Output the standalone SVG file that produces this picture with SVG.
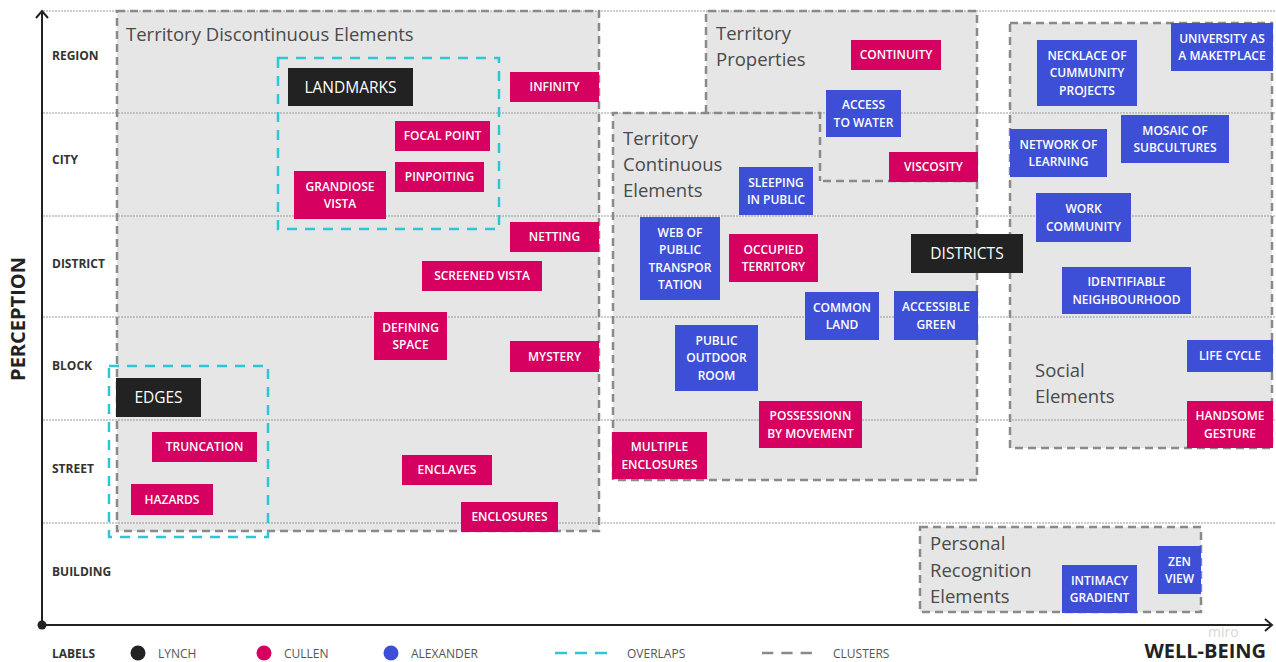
<svg xmlns="http://www.w3.org/2000/svg" width="1276" height="662" viewBox="0 0 1276 662">
<style>
text{font-family:"Open Sans","Liberation Sans",sans-serif}
.cf{fill:#e6e6e6;stroke:none}
.cb{fill:none;stroke:#8a8a8a;stroke-width:2.5;stroke-dasharray:8 5}
.ov{fill:none;stroke:#2ec5d6;stroke-width:2.5;stroke-dasharray:10 8}
.grid{stroke:#9a9a9a;stroke-width:1;stroke-dasharray:2 1}
.ct{font-size:18.5px;fill:#4a4a4a}
.lv{font-size:12px;font-weight:700;fill:#333}
.lg{font-size:12px;fill:#555}
.l{fill:#222}
.c{fill:#d5005f}
.a{fill:#3e4fd7}
.nt{font-size:12px;font-weight:600;fill:#fff;text-anchor:middle}
.bt{font-size:15.5px;fill:#fff;text-anchor:middle}
.ax{stroke:#222;stroke-width:2;fill:none}
</style>

<!-- clusters -->
<g id="cluster-discontinuous">
<rect class="cf" x="117" y="11" width="482" height="520"/>
</g>
<g id="cluster-properties">
<rect class="cf" x="706" y="11" width="271" height="170"/>
</g>
<g id="cluster-continuous">
<polygon class="cf" points="613,113 820,113 820,181 977,181 977,480 613,480"/>
</g>
<g id="cluster-social">
<rect class="cf" x="1010" y="23" width="262" height="425"/>
</g>
<g id="cluster-personal">
<rect class="cf" x="920" y="527" width="281" height="85"/>
</g>

<!-- grid -->
<g id="grid">
<line class="grid" x1="43" y1="11" x2="1276" y2="11"/>
<line class="grid" x1="43" y1="113" x2="1276" y2="113"/>
<line class="grid" x1="43" y1="216" x2="1276" y2="216"/>
<line class="grid" x1="43" y1="317" x2="1276" y2="317"/>
<line class="grid" x1="43" y1="420" x2="1276" y2="420"/>
<line class="grid" x1="43" y1="523" x2="1276" y2="523"/>
</g>

<!-- cluster borders and titles -->
<g id="cluster-borders">
<rect class="cb" x="117" y="11" width="482" height="520"/>
<path class="cb" d="M706,113 V11 H977 V181 H820"/>
<path class="cb" d="M613,480 V113 H820 V181 M977,181 V480 H613"/>
<rect class="cb" x="1010" y="23" width="262" height="425"/>
<rect class="cb" x="920" y="527" width="281" height="85"/>
</g>
<g id="cluster-titles">
<text class="ct" x="126" y="41">Territory Discontinuous Elements</text>
<text class="ct" x="716" y="40">Territory</text>
<text class="ct" x="716" y="66">Properties</text>
<text class="ct" x="623" y="145">Territory</text>
<text class="ct" x="623" y="171">Continuous</text>
<text class="ct" x="623" y="197">Elements</text>
<text class="ct" x="1035" y="377">Social</text>
<text class="ct" x="1035" y="403">Elements</text>
<text class="ct" x="930" y="550">Personal</text>
<text class="ct" x="930" y="577">Recognition</text>
<text class="ct" x="930" y="603">Elements</text>
</g>

<!-- overlaps -->
<g id="overlaps">
<rect class="ov" x="278" y="58" width="221" height="171"/>
<rect class="ov" x="109" y="366" width="159" height="171"/>
</g>

<!-- axes (connectors) -->
<g id="connectors">
<line class="ax" x1="42" y1="625" x2="42" y2="12"/>
<polyline class="ax" points="36,18 42,11 48,18"/>
<line class="ax" x1="42" y1="625" x2="1271" y2="625"/>
<polyline class="ax" points="1265,619 1272,625 1265,631"/>
<circle cx="42" cy="625" r="4.5" fill="#222"/>
</g>

<!-- axis labels -->
<g id="axis-labels">
<text x="25" y="319" transform="rotate(-90 25 319)" text-anchor="middle" font-size="20" font-weight="700" fill="#222">PERCEPTION</text>
<text x="1208" y="637" font-size="14" fill="#d6d6d6">miro</text>
<text x="1266" y="658" text-anchor="end" font-size="20" font-weight="700" fill="#222">WELL-BEING</text>
<text class="lv" x="52" y="60">REGION</text>
<text class="lv" x="52" y="164">CITY</text>
<text class="lv" x="52" y="268">DISTRICT</text>
<text class="lv" x="52" y="370">BLOCK</text>
<text class="lv" x="52" y="473">STREET</text>
<text class="lv" x="52" y="576">BUILDING</text>
</g>

<!-- legend -->
<g id="legend">
<text class="lv" x="52" y="658">LABELS</text>
<circle class="l" cx="138" cy="653" r="7.5"/>
<text class="lg" x="158" y="658">LYNCH</text>
<circle class="c" cx="264" cy="653" r="7.5"/>
<text class="lg" x="284" y="658">CULLEN</text>
<circle class="a" cx="391" cy="653" r="7.5"/>
<text class="lg" x="411" y="658">ALEXANDER</text>
<line class="ov" x1="555" y1="653" x2="607" y2="653" style="stroke-dasharray:12 8"/>
<text class="lg" x="627" y="658">OVERLAPS</text>
<line class="cb" x1="762" y1="653" x2="812" y2="653" style="stroke-dasharray:11.3 8"/>
<text class="lg" x="833" y="658">CLUSTERS</text>
</g>

<!-- Lynch nodes -->
<g id="n-landmarks"><rect class="l" x="288" y="68" width="125" height="38"/><text class="bt" x="350.5" y="92.5">LANDMARKS</text></g>
<g id="n-edges"><rect class="l" x="116" y="378" width="85" height="39"/><text class="bt" x="158.5" y="403">EDGES</text></g>
<g id="n-districts"><rect class="l" x="911" y="234" width="112" height="39"/><text class="bt" x="967" y="259">DISTRICTS</text></g>

<!-- Cullen nodes -->
<g id="n-infinity"><rect class="c" x="510" y="72" width="89" height="30"/><text class="nt" x="554.5" y="91.3">INFINITY</text></g>
<g id="n-focal-point"><rect class="c" x="395" y="121" width="95" height="30"/><text class="nt" x="442.5" y="140.3">FOCAL POINT</text></g>
<g id="n-pinpoiting"><rect class="c" x="395" y="162" width="89" height="30"/><text class="nt" x="439.5" y="181.3">PINPOITING</text></g>
<g id="n-grandiose-vista"><rect class="c" x="294" y="171" width="92" height="48"/><text class="nt" x="340" y="190.5">GRANDIOSE</text><text class="nt" x="340" y="208">VISTA</text></g>
<g id="n-netting"><rect class="c" x="510" y="222" width="89" height="30"/><text class="nt" x="554.5" y="241.3">NETTING</text></g>
<g id="n-screened-vista"><rect class="c" x="422" y="261" width="120" height="30"/><text class="nt" x="482" y="280.3">SCREENED VISTA</text></g>
<g id="n-defining-space"><rect class="c" x="374" y="312" width="73" height="48"/><text class="nt" x="410.5" y="331.5">DEFINING</text><text class="nt" x="410.5" y="349">SPACE</text></g>
<g id="n-mystery"><rect class="c" x="510" y="341" width="89" height="31"/><text class="nt" x="554.5" y="360.8">MYSTERY</text></g>
<g id="n-enclaves"><rect class="c" x="402" y="455" width="90" height="30"/><text class="nt" x="447" y="474.3">ENCLAVES</text></g>
<g id="n-truncation"><rect class="c" x="152" y="432" width="105" height="30"/><text class="nt" x="204.5" y="451.3">TRUNCATION</text></g>
<g id="n-hazards"><rect class="c" x="131" y="484" width="82" height="31"/><text class="nt" x="172" y="503.8">HAZARDS</text></g>
<g id="n-enclosures"><rect class="c" x="461" y="502" width="97" height="30"/><text class="nt" x="509.5" y="521.3">ENCLOSURES</text></g>
<g id="n-multiple-enclosures"><rect class="c" x="612" y="432" width="95" height="47"/><text class="nt" x="659.5" y="451">MULTIPLE</text><text class="nt" x="659.5" y="468.5">ENCLOSURES</text></g>
<g id="n-possession"><rect class="c" x="759" y="401" width="103" height="47"/><text class="nt" x="810.5" y="420">POSSESSIONN</text><text class="nt" x="810.5" y="437.5">BY MOVEMENT</text></g>
<g id="n-occupied-territory"><rect class="c" x="729" y="234" width="89" height="48"/><text class="nt" x="773.5" y="253.5">OCCUPIED</text><text class="nt" x="773.5" y="271">TERRITORY</text></g>
<g id="n-continuity"><rect class="c" x="851" y="40" width="90" height="30"/><text class="nt" x="896" y="59.3">CONTINUITY</text></g>
<g id="n-viscosity"><rect class="c" x="889" y="152" width="89" height="30"/><text class="nt" x="933.5" y="171.3">VISCOSITY</text></g>
<g id="n-handsome-gesture"><rect class="c" x="1187" y="401" width="86" height="47"/><text class="nt" x="1230" y="420">HANDSOME</text><text class="nt" x="1230" y="437.5">GESTURE</text></g>

<!-- Alexander nodes -->
<g id="n-access-water"><rect class="a" x="826" y="90" width="75" height="47"/><text class="nt" x="863.5" y="109">ACCESS</text><text class="nt" x="863.5" y="126.5">TO WATER</text></g>
<g id="n-sleeping-public"><rect class="a" x="739" y="167" width="74" height="48"/><text class="nt" x="776" y="186.5">SLEEPING</text><text class="nt" x="776" y="204">IN PUBLIC</text></g>
<g id="n-necklace"><rect class="a" x="1037" y="40" width="100" height="66"/><text class="nt" x="1087" y="59.8">NECKLACE OF</text><text class="nt" x="1087" y="77.3">CUMMUNITY</text><text class="nt" x="1087" y="94.8">PROJECTS</text></g>
<g id="n-university"><rect class="a" x="1171" y="23" width="102" height="48"/><text class="nt" x="1222" y="42.5">UNIVERSITY AS</text><text class="nt" x="1222" y="60">A MAKETPLACE</text></g>
<g id="n-network-learning"><rect class="a" x="1010" y="129" width="97" height="48"/><text class="nt" x="1058.5" y="148.5">NETWORK OF</text><text class="nt" x="1058.5" y="166">LEARNING</text></g>
<g id="n-mosaic"><rect class="a" x="1121" y="115" width="108" height="48"/><text class="nt" x="1175" y="134.5">MOSAIC OF</text><text class="nt" x="1175" y="152">SUBCULTURES</text></g>
<g id="n-work-community"><rect class="a" x="1036" y="193" width="95" height="49"/><text class="nt" x="1083.5" y="213">WORK</text><text class="nt" x="1083.5" y="230.5">COMMUNITY</text></g>
<g id="n-identifiable"><rect class="a" x="1062" y="267" width="129" height="47"/><text class="nt" x="1126.5" y="286">IDENTIFIABLE</text><text class="nt" x="1126.5" y="303.5">NEIGHBOURHOOD</text></g>
<g id="n-life-cycle"><rect class="a" x="1187" y="340" width="86" height="32"/><text class="nt" x="1230" y="360.3">LIFE CYCLE</text></g>
<g id="n-accessible-green"><rect class="a" x="894" y="291" width="84" height="49"/><text class="nt" x="936" y="311">ACCESSIBLE</text><text class="nt" x="936" y="328.5">GREEN</text></g>
<g id="n-common-land"><rect class="a" x="805" y="292" width="74" height="48"/><text class="nt" x="842" y="311.5">COMMON</text><text class="nt" x="842" y="329">LAND</text></g>
<g id="n-web-transport"><rect class="a" x="640" y="217" width="80" height="83"/><text class="nt" x="680" y="236.5">WEB OF</text><text class="nt" x="680" y="254">PUBLIC</text><text class="nt" x="680" y="271.5">TRANSPOR</text><text class="nt" x="680" y="289">TATION</text></g>
<g id="n-public-outdoor-room"><rect class="a" x="675" y="325" width="83" height="66"/><text class="nt" x="716.5" y="344.8">PUBLIC</text><text class="nt" x="716.5" y="362.3">OUTDOOR</text><text class="nt" x="716.5" y="379.8">ROOM</text></g>
<g id="n-intimacy-gradient"><rect class="a" x="1062" y="565" width="75" height="48"/><text class="nt" x="1099.5" y="584.5">INTIMACY</text><text class="nt" x="1099.5" y="602">GRADIENT</text></g>
<g id="n-zen-view"><rect class="a" x="1158" y="546" width="43" height="48"/><text class="nt" x="1179.5" y="565.5">ZEN</text><text class="nt" x="1179.5" y="583">VIEW</text></g>
</svg>
